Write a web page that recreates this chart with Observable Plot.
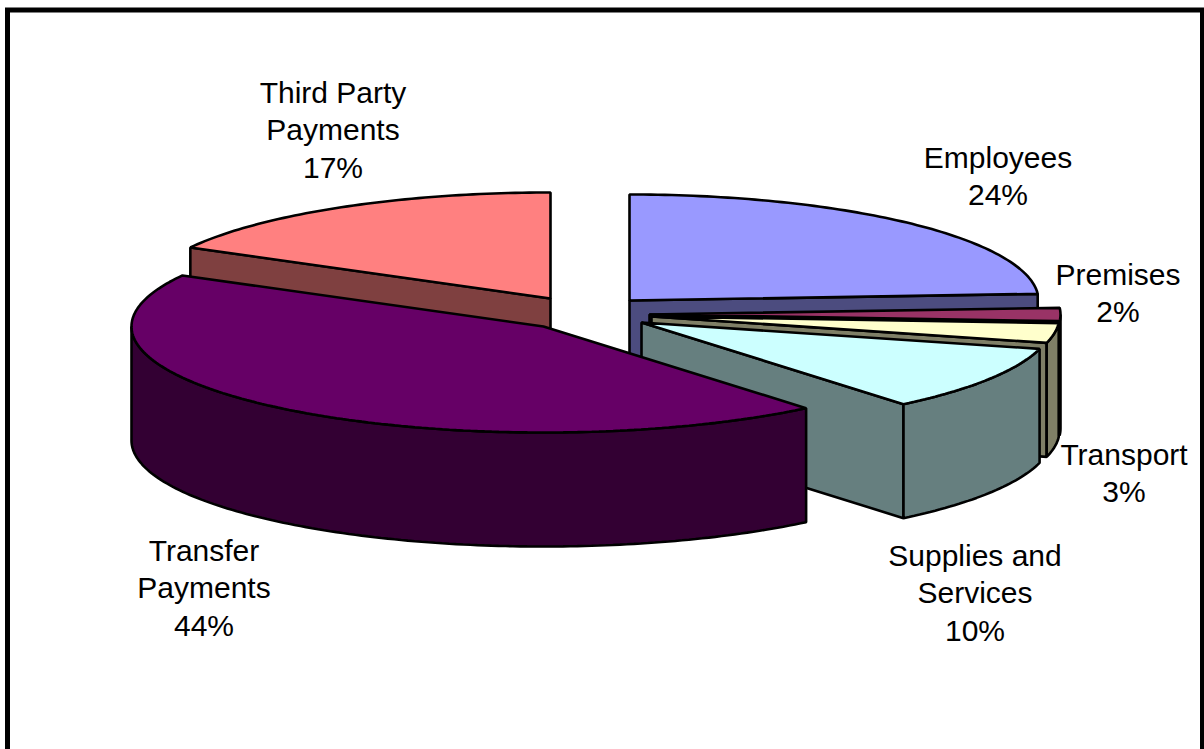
<!DOCTYPE html>
<html>
<head>
<meta charset="utf-8">
<script src="https://cdn.jsdelivr.net/npm/d3@7"></script>
<script src="https://cdn.jsdelivr.net/npm/@observablehq/plot@0.6"></script>
<style>
  html, body { margin: 0; padding: 0; background: #fff; overflow: hidden; }
  svg { display: block; }
</style>
</head>
<body>
<script>
// Spending shares, clockwise from twelve o'clock.
const categories = ["Employees", "Premises", "Transport", "Supplies and\nServices", "Transfer\nPayments", "Third Party\nPayments"];
const shares = [24, 2, 3, 10, 44, 17];

// Face colours for each slice: top surface and side wall.
const topColors = ["#9999ff", "#993366", "#ffffcc", "#ccffff", "#660066", "#ff8080"];
const wallColors = ["#4c4c7f", "#4c1933", "#7f7f66", "#667f7f", "#330033", "#7f4040"];

// Exploded slice centres, radii and label anchors in the chart's 1204x749 plane.
const centerX = [629, 649, 651, 641, 543, 550];
const centerY = [300, 314, 316, 322, 326, 298];
const radiusX = [409, 411, 408, 411, 412, 411];
const labelX = [997.5, 1117.5, 1123.5, 974.5, 203.5, 332.5];
const labelY = [174, 291, 471, 591, 586, 128];
const radiusY = 106;
const depth = 114;
const drawOrder = [0, 5, 1, 2, 3, 4];

const toRad = Math.PI / 180;
const rim = (i, deg, drop = 0) => ({
  px: centerX[i] + radiusX[i] * Math.sin(deg * toRad),
  py: centerY[i] - radiusY * Math.cos(deg * toRad) + drop
});
const arc = (i, a, b, drop = 0) => {
  const n = Math.max(1, Math.ceil(Math.abs(b - a)));
  return d3.range(n + 1).map((k) => rim(i, a + (b - a) * k / n, drop));
};

// Cumulative angle range of every slice.
let running = 0;
const spans = shares.map((v) => {
  const a = running * 3.6;
  running += v;
  return [a, running * 3.6];
});

// Flatten the faces into polygon vertices, painted back to front.
const faces = [];
const addFace = (pts, fill) => {
  const id = faces.length ? faces[faces.length - 1].id + 1 : 0;
  pts.forEach((p) => faces.push({ ...p, id, fill }));
};
for (const i of drawOrder) {
  const [a, b] = spans[i];
  const hub = { px: centerX[i], py: centerY[i] };
  const hubLow = { px: centerX[i], py: centerY[i] + depth };
  // Radial walls that face the viewer.
  if (Math.sin(a * toRad) < 0) {
    const r = rim(i, a);
    addFace([hub, r, { px: r.px, py: r.py + depth }, hubLow], wallColors[i]);
  }
  if (Math.sin(b * toRad) > 0) {
    const r = rim(i, b);
    addFace([hub, r, { px: r.px, py: r.py + depth }, hubLow], wallColors[i]);
  }
  // Outer wall: only the part of the rim on the near side.
  const lo = Math.max(a, 90);
  const hi = Math.min(b, 270);
  if (hi > lo) {
    addFace([...arc(i, lo, hi), ...arc(i, hi, lo, depth)], wallColors[i]);
  }
  // Top surface.
  addFace([hub, ...arc(i, a, b)], topColors[i]);
}

const labels = categories.map((name, i) => ({
  text: `${name}\n${shares[i]}%`,
  x: labelX[i],
  y: labelY[i]
}));

const chart = Plot.plot({
  width: 1204,
  height: 749,
  margin: 0,
  axis: null,
  x: { domain: [0, 1204], range: [0, 1204] },
  y: { domain: [0, 749], range: [0, 749] },
  marks: [
    Plot.frame({ stroke: "#000", strokeWidth: 5, insetLeft: 7, insetTop: 9.5, insetRight: 2, insetBottom: -10 }),
    Plot.line(faces, {
      x: "px",
      y: "py",
      z: "id",
      fill: "fill",
      stroke: "#000",
      strokeWidth: 2.6,
      strokeLinejoin: "miter",
      curve: "linear-closed"
    }),
    Plot.text(labels, {
      x: "x",
      y: "y",
      text: "text",
      fontFamily: "Liberation Sans, Arial, sans-serif",
      fontSize: 30,
      lineHeight: 1.24,
      fill: "#000"
    })
  ]
});
document.body.appendChild(chart);
</script>
</body>
</html>
